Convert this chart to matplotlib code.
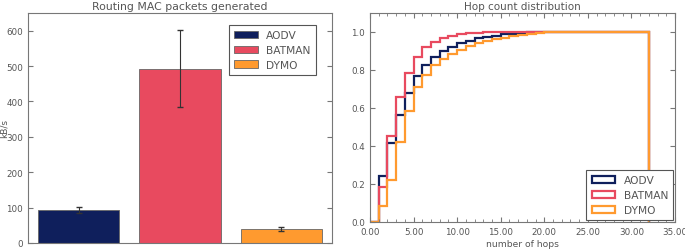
import matplotlib
matplotlib.use('Agg')
import matplotlib.pyplot as plt
import numpy as np
from matplotlib.patches import Rectangle
from matplotlib.ticker import MultipleLocator, FormatStrFormatter

### DATA

protocols = ['AODV', 'BATMAN', 'DYMO']
colors = ['#0f1f5c', '#e84a5f', '#ff9a2f']

# routing MAC packets (kB/s) and error
kbps = [93, 492, 40]
kbps_err = [8, 109, 6]

# hop count cdf, one value per bin of width 1 (0..32)
hop_edges = list(range(0, 33))
cdf_aodv = [0.0, 0.24, 0.415, 0.565, 0.68, 0.77, 0.828, 0.871, 0.90, 0.922,
            0.94, 0.955, 0.966, 0.975, 0.981, 0.987, 0.992, 0.996, 0.998, 1.0,
            1.0, 1.0, 1.0, 1.0, 1.0, 1.0, 1.0, 1.0, 1.0, 1.0, 1.0, 1.0]
cdf_batman = [0.0, 0.183, 0.455, 0.66, 0.785, 0.866, 0.92, 0.948, 0.967, 0.98,
              0.988, 0.993, 0.996, 0.998, 0.999, 1.0, 1.0, 1.0, 1.0, 1.0,
              1.0, 1.0, 1.0, 1.0, 1.0, 1.0, 1.0, 1.0, 1.0, 1.0, 1.0, 1.0]
cdf_dymo = [0.0, 0.085, 0.22, 0.42, 0.586, 0.71, 0.775, 0.825, 0.86, 0.885,
            0.905, 0.924, 0.94, 0.952, 0.962, 0.971, 0.979, 0.985, 0.99, 0.995,
            0.998, 1.0, 1.0, 1.0, 1.0, 1.0, 1.0, 1.0, 1.0, 1.0, 1.0, 1.0]

### PLOT

grey = '#555555'
params = {'font.family': 'DejaVu Sans',
          'font.size': 6.3,
          'text.color': grey,
          'axes.labelcolor': grey,
          'axes.edgecolor': '#777777',
          'xtick.color': '#777777',
          'ytick.color': '#777777',
          'xtick.labelcolor': grey,
          'ytick.labelcolor': grey,
          'xtick.labelsize': 6.3,
          'ytick.labelsize': 6.3,
          'xtick.direction': 'in',
          'ytick.direction': 'in',
          'xtick.top': True,
          'ytick.right': True,
          'legend.edgecolor': '#555555',
          }
plt.rcParams.update(params)

fig = plt.figure(figsize=(6.85, 2.51), dpi=100)
ax1 = fig.add_axes([28/685, 7/251, 304/685, 230/251])
ax2 = fig.add_axes([370/685, 28/251, 305/685, 209/251])

# left: bars
x = np.arange(len(protocols))
for i in range(len(protocols)):
    ax1.bar(x[i], kbps[i], 0.8, yerr=kbps_err[i], color=colors[i],
            edgecolor='#666666', linewidth=0.6, label=protocols[i],
            error_kw=dict(ecolor='#333333', elinewidth=0.8, capsize=2))
ax1.set_xlim(-0.5, 2.5)
ax1.set_ylim(0, 650)
ax1.set_xticks([])
ax1.yaxis.set_major_locator(MultipleLocator(100))
ax1.set_title('Routing MAC packets generated', fontsize=7.8, color=grey, pad=3)
ax1.set_ylabel('kB/s', fontsize=6.5)
ax1.yaxis.set_label_coords(-0.063, 0.5)
lg1 = ax1.legend(loc='upper right', bbox_to_anchor=(0.947, 0.948),
                 borderaxespad=0, fancybox=False, framealpha=1,
                 handlelength=2.2, borderpad=0.5, labelspacing=0.45,
                 handletextpad=0.8, fontsize=7.7)
lg1.get_frame().set_linewidth(0.8)

# right: hop count cdf
handles = []
for cdf, c, lab in zip([cdf_aodv, cdf_batman, cdf_dymo], colors, protocols):
    ax2.stairs(cdf, hop_edges, baseline=0, fill=False, color=c, lw=1.6)
    handles.append(Rectangle((0, 0), 1, 1, fill=False, edgecolor=c, lw=1.6,
                             label=lab))
ax2.set_xlim(0, 35)
ax2.set_ylim(0, 1.1)
ax2.xaxis.set_major_locator(MultipleLocator(5))
ax2.xaxis.set_minor_locator(MultipleLocator(1))
ax2.xaxis.set_major_formatter(FormatStrFormatter('%.2f'))
ax2.yaxis.set_major_locator(MultipleLocator(0.2))
ax2.tick_params(which='minor', direction='in', top=True, length=2)
ax2.set_title('Hop count distribution', fontsize=7.5, color=grey, pad=3)
ax2.set_xlabel('number of hops', fontsize=6.6, labelpad=2)
lg2 = ax2.legend(handles=handles, loc='lower right', borderaxespad=0.15,
                 fancybox=False, framealpha=1,
                 handlelength=2.2, borderpad=0.5, labelspacing=0.45,
                 handletextpad=0.8, fontsize=7.7)
lg2.get_frame().set_linewidth(0.8)

fig.savefig('out.png', dpi=100)
